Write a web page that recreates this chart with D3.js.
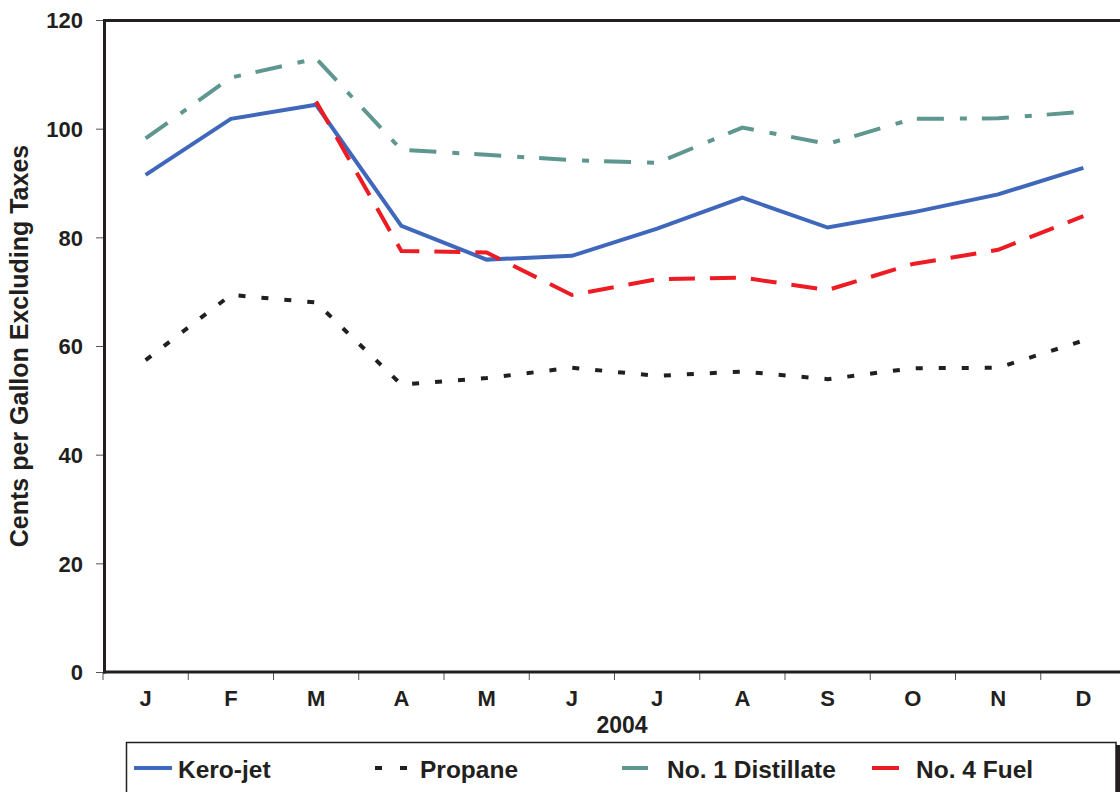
<!DOCTYPE html>
<html>
<head>
<meta charset="utf-8">
<script src="https://cdn.jsdelivr.net/npm/d3@7"></script>
<style>
  html, body { margin: 0; padding: 0; background: #fff; }
  svg { display: block; }
  text { font-family: "Liberation Sans", Arial, sans-serif; font-weight: bold; fill: #231f20; }
</style>
</head>
<body>
<svg id="chart" width="1120" height="792"></svg>
<script>
const months = ["J","F","M","A","M","J","J","A","S","O","N","D"];
const yTicks = [0, 20, 40, 60, 80, 100, 120];
const xTitle = "2004";
const yTitle = "Cents per Gallon Excluding Taxes";

const keroJet     = [91.5, 101.8, 104.4, 82.1, 75.9, 76.6, 81.6, 87.3, 81.8, 84.6, 87.9, 92.8];
const propane     = [57.4, 69.4, 68.0, 52.9, 54.1, 56.0, 54.5, 55.3, 53.9, 55.9, 56.0, 61.0];
const distillate1 = [98.2, 109.4, 112.9, 96.1, 95.2, 94.2, 93.7, 100.2, 97.2, 101.8, 101.9, 103.1];
const fuel4       = [null, null, 105.0, 77.5, 77.2, 69.4, 72.3, 72.6, 70.3, 75.1, 77.7, 83.9];

const seriesNames = ["Kero-jet", "Propane", "No. 1 Distillate", "No. 4 Fuel"];

const series = [
  { name: seriesNames[0], values: keroJet,     color: "#3f68bc", dash: null },
  { name: seriesNames[1], values: propane,     color: "#231f20", dash: "7,16" },
  { name: seriesNames[2], values: distillate1, color: "#5e9690", dash: "27,16,7,15" },
  { name: seriesNames[3], values: fuel4,       color: "#ed1c24", dash: "26,15" }
];

const svg = d3.select("#chart");
const plotLeft = 104, plotTop = 20, plotBottom = 672;

const idx = d3.range(months.length);
const x = d3.scaleBand().domain(idx).range([103, 103 + 85.25 * 12]).padding(0);
const y = d3.scaleLinear().domain([0, 120]).range([plotBottom, plotTop]);

// Y axis
const yAxis = d3.axisLeft(y).tickValues(yTicks).tickSize(8).tickPadding(13).tickSizeOuter(0);
const gy = svg.append("g").attr("transform", `translate(${plotLeft},0)`).call(yAxis);
gy.select(".domain").remove();
gy.selectAll(".tick line").attr("stroke", "#555").attr("stroke-width", 1);
gy.selectAll(".tick text").attr("font-size", 22).attr("font-family", "Liberation Sans, Arial, sans-serif")
  .attr("font-weight", "bold").attr("fill", "#231f20").attr("dy", "0.36em");

// X axis labels
const xAxis = d3.axisBottom(x).tickFormat(i => months[i]).tickSize(0).tickPadding(34);
const gx = svg.append("g").attr("transform", `translate(0,${plotBottom})`).call(xAxis);
gx.select(".domain").remove();
gx.selectAll(".tick text").attr("font-size", 22).attr("font-family", "Liberation Sans, Arial, sans-serif")
  .attr("font-weight", "bold").attr("fill", "#231f20").attr("dy", "0");

// X boundary ticks
svg.append("g").selectAll("line").data(idx.concat([12])).join("line")
  .attr("x1", i => i < 12 ? x(i) : x(11) + x.bandwidth())
  .attr("x2", i => i < 12 ? x(i) : x(11) + x.bandwidth())
  .attr("y1", plotBottom).attr("y2", plotBottom + 8)
  .attr("stroke", "#555").attr("stroke-width", 1);

// Frame lines
svg.append("line").attr("x1", plotLeft - 1).attr("x2", 1120).attr("y1", plotTop + 0.5).attr("y2", plotTop + 0.5)
  .attr("stroke", "#231f20").attr("stroke-width", 3);
svg.append("line").attr("x1", plotLeft - 1).attr("x2", 1120).attr("y1", plotBottom).attr("y2", plotBottom)
  .attr("stroke", "#231f20").attr("stroke-width", 3);
svg.append("line").attr("x1", plotLeft + 0.5).attr("x2", plotLeft + 0.5).attr("y1", plotTop - 1).attr("y2", plotBottom + 1.5)
  .attr("stroke", "#231f20").attr("stroke-width", 3);

// Lines
const line = d3.line()
  .defined(d => d.v !== null)
  .x(d => x(d.i) + x.bandwidth() / 2)
  .y(d => y(d.v));

svg.append("g").selectAll("path").data(series).join("path")
  .attr("d", s => line(s.values.map((v, i) => ({ i, v }))))
  .attr("fill", "none")
  .attr("stroke", s => s.color)
  .attr("stroke-width", 4)
  .attr("stroke-linejoin", "miter")
  .attr("stroke-dasharray", s => s.dash);

// Axis titles
svg.append("text").attr("x", 622).attr("y", 733).attr("text-anchor", "middle")
  .attr("font-size", 23).text(xTitle);
svg.append("text").attr("transform", "translate(28,346) rotate(-90)").attr("text-anchor", "middle")
  .attr("font-size", 25).text(yTitle);

// Legend
const lg = svg.append("g");
lg.append("rect").attr("x", 1116).attr("y", 745).attr("width", 4).attr("height", 60).attr("fill", "#231f20");
lg.append("rect").attr("x", 126.5).attr("y", 742.5).attr("width", 989.5).attr("height", 70)
  .attr("fill", "#fff").attr("stroke", "#231f20").attr("stroke-width", 1.5);

const legendItems = [
  { s: series[0], x1: 134, x2: 172, tx: 178, dash: null },
  { s: series[1], x1: 375, x2: 407, tx: 420, dash: "7,18" },
  { s: series[2], x1: 622, x2: 648, tx: 667, dash: null },
  { s: series[3], x1: 872, x2: 899, tx: 916, dash: null }
];
const li = lg.selectAll("g.item").data(legendItems).join("g").attr("class", "item");
li.append("line").attr("x1", d => d.x1).attr("x2", d => d.x2).attr("y1", 768).attr("y2", 768)
  .attr("stroke", d => d.s.color).attr("stroke-width", 4).attr("stroke-dasharray", d => d.dash);
li.append("text").attr("x", d => d.tx).attr("y", 778).attr("font-size", 24.5).text(d => d.s.name);
</script>
</body>
</html>
